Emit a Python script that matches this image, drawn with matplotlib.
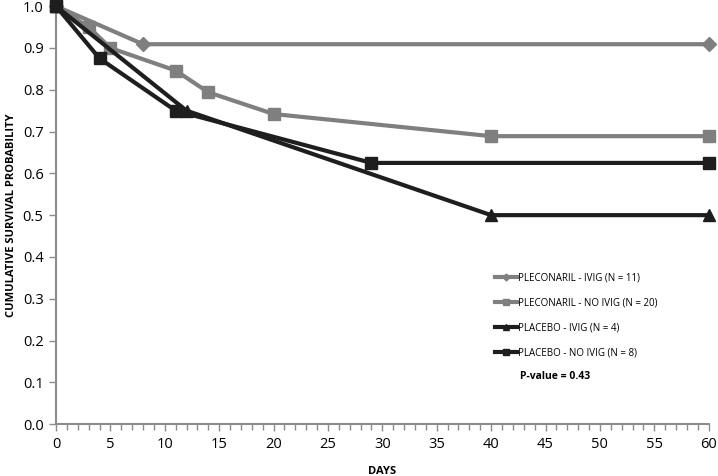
import matplotlib.pyplot as plt
from matplotlib.ticker import MultipleLocator

plt.rcParams['font.family'] = ['Open Sans', 'DejaVu Sans']

# Pleconaril - IVIG (N = 11)
plec_ivig_x = [0, 8, 60]
plec_ivig_y = [1.0, 0.909, 0.909]

# Pleconaril - NO IVIG (N = 20)
plec_noivig_x = [0, 3, 5, 11, 14, 20, 40, 60]
plec_noivig_y = [1.0, 0.95, 0.90, 0.846, 0.794, 0.742, 0.689, 0.689]

# Placebo - IVIG (N = 4)
plac_ivig_x = [0, 12, 40, 60]
plac_ivig_y = [1.0, 0.75, 0.50, 0.50]

# Placebo - NO IVIG (N = 8)
plac_noivig_x = [0, 4, 11, 29, 60]
plac_noivig_y = [1.0, 0.875, 0.75, 0.625, 0.625]

gray = '#7f7f7f'
dark = '#1e1e1e'

fig = plt.figure(figsize=(7.18, 4.76), dpi=100)
ax = fig.add_axes([0.078, 0.109, 0.909, 0.878])

ax.plot(plec_ivig_x, plec_ivig_y, color=gray, lw=3, marker='D', ms=7,
        label='PLECONARIL - IVIG (N = 11)', clip_on=False, zorder=3)
ax.plot(plec_noivig_x, plec_noivig_y, color=gray, lw=3, marker='s', ms=9,
        label='PLECONARIL - NO IVIG (N = 20)', clip_on=False, zorder=3)
ax.plot(plac_ivig_x, plac_ivig_y, color=dark, lw=3, marker='^', ms=9,
        label='PLACEBO - IVIG (N = 4)', clip_on=False, zorder=4)
ax.plot(plac_noivig_x, plac_noivig_y, color=dark, lw=3, marker='s', ms=9,
        label='PLACEBO - NO IVIG (N = 8)', clip_on=False, zorder=4)

ax.set_xlim(0, 60)
ax.set_ylim(0, 1.0)
ax.xaxis.set_major_locator(MultipleLocator(5))
ax.xaxis.set_minor_locator(MultipleLocator(1))
ax.yaxis.set_major_locator(MultipleLocator(0.1))
ax.yaxis.set_major_formatter(plt.FormatStrFormatter('%.1f'))

for s in ['top', 'right']:
    ax.spines[s].set_visible(False)
for s in ['left', 'bottom']:
    ax.spines[s].set_color('#8c8c8c')
    ax.spines[s].set_linewidth(1.5)

ax.tick_params(axis='both', which='both', colors='#8c8c8c', labelcolor='black',
               labelsize=10.5)
ax.tick_params(axis='x', which='major', length=5, width=1, pad=4)
ax.tick_params(axis='x', which='minor', length=4, width=1)
ax.tick_params(axis='y', which='major', length=5, width=1, pad=4)

ax.set_xlabel('DAYS', fontsize=8, fontweight='bold', labelpad=10)
ax.set_ylabel('CUMULATIVE SURVIVAL PROBABILITY', fontsize=8, fontweight='bold',
              labelpad=4)

leg = ax.legend(loc='upper left', bbox_to_anchor=(0.667, 0.373), frameon=False,
                fontsize=7, handlelength=2.2, handletextpad=0.1,
                labelspacing=1.45, markerscale=0.5, borderaxespad=0)

ax.text(0.711, 0.114, 'P-value = 0.43', transform=ax.transAxes,
        fontsize=7.5, fontweight='bold', va='center')

fig.savefig('out.png', dpi=100)
